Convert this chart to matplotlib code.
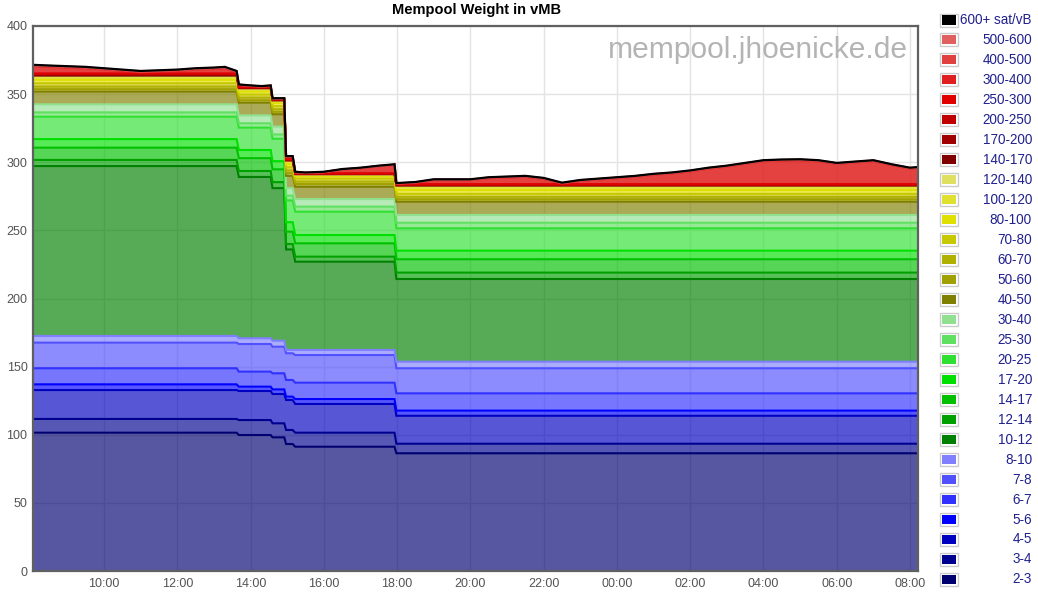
import numpy as np
import matplotlib
matplotlib.use("Agg")
import matplotlib.pyplot as plt
from matplotlib.patches import Rectangle

plt.rcParams['font.family'] = ['Liberation Sans', 'DejaVu Sans']

W, H = 1038, 592

# fee levels, bottom of the stack first
fee_labels = ["2-3", "3-4", "4-5", "5-6", "6-7", "7-8", "8-10", "10-12", "12-14",
              "14-17", "17-20", "20-25", "25-30", "30-40", "40-50", "50-60", "60-70",
              "70-80", "80-100", "100-120", "120-140", "140-170", "170-200", "200-250",
              "250-300", "300-400", "400-500", "500-600", "600+ sat/vB"]
fee_colors = ["#000070", "#000090", "#0000c0", "#0000ff", "#3030ff", "#5050ff", "#8080ff",
              "#008000", "#00a000", "#00c000", "#00e000", "#30e030", "#60e060", "#90e090",
              "#808000", "#a0a000", "#b0b000", "#c8c800", "#e0e000", "#e0e030", "#e0e060",
              "#800000", "#a00000", "#c00000", "#e00000", "#e02020", "#e04040", "#e06060",
              "#000000"]

# sample times in hours (24 = midnight, 32 = 08:00 next day)
hours = [8.06, 8.5, 9.0, 9.5, 10.0, 10.5, 11.0, 11.5, 12.0, 12.5, 13.0, 13.3, 13.62,
         13.68, 14.0, 14.3, 14.55,
         14.60, 14.75, 14.92,
         14.97, 15.15,
         15.22, 15.5, 16.0, 16.5, 17.0, 17.5, 17.93,
         17.98, 18.5, 19.0, 19.5, 20.0, 20.5, 21.0, 21.5, 22.0, 22.5, 23.0, 23.5, 24.0,
         24.5, 25.0, 25.5, 26.0, 26.5, 27.0, 27.5, 28.0, 28.5, 29.0, 29.5, 30.0, 30.5,
         31.0, 31.5, 32.0, 32.22]
seg_counts = [13, 4, 3, 2, 7, 30]

# vMB per fee level in each flat stretch (300-400 is given separately below)
seg_a = [101.5, 10.1, 21.2, 4.2, 11.8, 18.8, 4.9, 124.7, 4.5, 9.0, 6.3, 16.4, 3.2, 5.9,
         9.3, 1.8, 1.9, 2.5, 2.5, 1.5, 1.0, 0.6, 0.6, 0.6, 0.4, 0.0, 0.4, 0.3, 0.3]
seg_b = [99.8, 11.0, 21.3, 3.2, 11.0, 20.3, 4.2, 118.4, 4.4, 9.4, 6.0, 16.4, 3.2, 5.8,
         9.3, 1.8, 1.9, 2.3, 2.3, 1.2, 0.8, 0.3, 0.3, 0.3, 0.2, 0.0, 0.2, 0.1, 0.2]
seg_b2 = [98.1, 10.3, 21.5, 3.4, 11.8, 19.5, 4.4, 112.0, 4.4, 9.4, 6.0, 16.4, 3.2, 5.8,
          9.0, 1.8, 1.9, 2.3, 2.3, 1.0, 0.6, 0.3, 0.3, 0.3, 0.2, 0.0, 0.2, 0.1, 0.2]
seg_b3 = [93.2, 10.3, 22.0, 2.5, 12.2, 19.6, 2.4, 73.8, 4.0, 9.0, 7.0, 16.0, 3.5, 5.5,
          9.0, 2.0, 2.0, 2.3, 2.3, 1.4, 1.0, 0.3, 0.3, 0.4, 0.3, 0.0, 0.3, 0.2, 0.2]
seg_c = [91.2, 10.3, 21.1, 3.6, 12.0, 20.3, 3.7, 64.8, 3.7, 9.8, 6.1, 17.1, 3.7, 5.6,
         9.0, 2.0, 1.8, 2.2, 1.8, 0.8, 0.4, 0.2, 0.2, 0.2, 0.2, 0.0, 0.1, 0.1, 0.2]
seg_d = [86.4, 7.0, 20.5, 3.8, 12.7, 18.4, 4.8, 60.7, 4.7, 9.8, 6.3, 16.4, 4.1, 5.7,
         9.7, 1.8, 1.8, 2.2, 2.8, 1.8, 1.2, 0.3, 0.3, 0.3, 0.4, 0.0, 0.3, 0.2, 0.2]

fee300_400 = [5.3, 4.8, 4.3, 3.8, 2.8, 1.8, 0.8, 1.3, 1.8, 2.8, 3.3, 3.8, 0.8,
              1.5, 0.8, 0.3, 0.8,
              0.3, 0.3, 0.3,
              1.5, 1.5,
              0.8, 0.3, 0.8, 2.8, 3.8, 5.3, 6.3,
              0.1, 0.9, 2.9, 2.9, 2.9, 4.4, 4.9, 5.4, 3.9, 0.4, 2.4, 3.4, 4.4, 5.4, 6.9,
              7.9, 9.4, 11.4, 12.9, 14.9, 16.9, 17.4, 17.6, 16.9, 14.9, 15.9, 16.9, 13.9,
              11.4, 11.9]

tick_hours = [10, 12, 14, 16, 18, 20, 22, 24, 26, 28, 30, 32]
tick_labels = ["10:00", "12:00", "14:00", "16:00", "18:00", "20:00", "22:00",
               "00:00", "02:00", "04:00", "06:00", "08:00"]


def px_x(x):
    return x / W


def px_y(y):
    return 1 - y / H


segs = np.array([seg_a, seg_b, seg_b2, seg_b3, seg_c, seg_d])
layers = np.repeat(segs, seg_counts, axis=0).T
layers[fee_labels.index("300-400")] += np.array(fee300_400)
tops = np.cumsum(layers, axis=0)
t = np.array(hours)

fig = plt.figure(figsize=(W / 100, H / 100), dpi=100)
ax = fig.add_axes([px_x(33), px_y(571), px_x(918 - 33), (571 - 26) / H])

first_red = fee_labels.index("140-170")
bottom = np.zeros_like(t)
for i, col in enumerate(fee_colors):
    alpha = 0.85 if i >= first_red else 0.66
    ax.fill_between(t, bottom, tops[i], color=col, alpha=alpha, lw=0, zorder=2)
    ax.plot(t, tops[i], color=col, lw=1.6 if i == len(fee_colors) - 1 else 1.5,
            zorder=3, solid_joinstyle='miter')
    bottom = tops[i]

ax.set_xlim(8.062, 32.218)
ax.set_ylim(0, 400)
ax.set_xticks(tick_hours)
ax.set_xticklabels(tick_labels)
ax.set_yticks(range(0, 401, 50))
ax.tick_params(axis='y', length=0, labelsize=9, labelcolor='#545454', pad=4)
ax.tick_params(axis='x', length=0, labelsize=9, labelcolor='#545454', pad=5)
ax.grid(color='#e3e3e3', lw=1)
ax.set_axisbelow(True)
for s in ax.spines.values():
    s.set_color('#606060')
    s.set_linewidth(1.6)
    s.set_zorder(5)

ax.text(px_x(908), px_y(58), "mempool.jhoenicke.de", transform=fig.transFigure,
        ha='right', va='baseline', fontsize=21.6, color='#b4b4b4', zorder=6)

fig.text(px_x(476), px_y(10), "Mempool Weight in vMB", ha='center', va='center',
         fontsize=10.5, fontweight='bold', color='#000000')

# legend, highest fee at the top
for i in range(len(fee_labels)):
    k = len(fee_labels) - 1 - i
    yc = 20 + 19.98 * i
    fig.add_artist(Rectangle((px_x(939.5), px_y(yc + 6.5)), 18 / W, 13 / H,
                             transform=fig.transFigure, facecolor='white',
                             edgecolor='#cccccc', lw=1))
    fig.add_artist(Rectangle((px_x(941.5), px_y(yc + 4.5)), 14 / W, 9 / H,
                             transform=fig.transFigure, facecolor=fee_colors[k],
                             edgecolor='none'))
    fig.text(px_x(1032), px_y(yc), fee_labels[k], ha='right', va='center',
             fontsize=9.75, color='#20208f')

fig.savefig("out.png", dpi=100)
